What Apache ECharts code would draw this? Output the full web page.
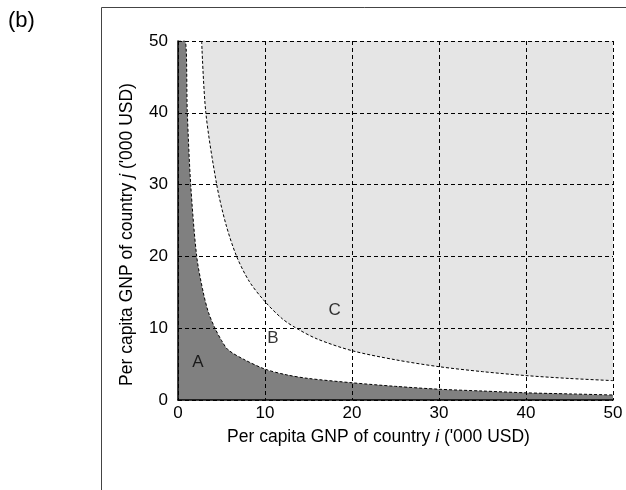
<!DOCTYPE html>
<html><head><meta charset="utf-8">
<script src="https://cdn.jsdelivr.net/npm/echarts@6/dist/echarts.min.js"></script>
<style>html,body{margin:0;padding:0;background:#fff}#c{width:626px;height:490px}</style>
</head><body><div id="c"></div>
<script>
var xTicks = [0, 10, 20, 30, 40, 50];
var yTicks = [0, 10, 20, 30, 40, 50];
// lower boundary (region A below it)
var lowerX = [0, 0.8, 1.07, 1.46, 2.15, 2.9, 3.5, 4.25, 5.0, 5.75, 7.5, 10, 12.5, 15, 20, 25, 30, 35, 40, 45, 50];
var lowerY = [50, 50, 40, 30, 20, 15, 12.2, 10, 8.3, 7.0, 5.7, 4.3, 3.5, 3.0, 2.4, 1.9, 1.5, 1.25, 1.0, 0.85, 0.7];
// upper boundary (region C above it)
var upperX = [2.72, 3.2, 4.45, 5.5, 6.74, 8.2, 10, 12, 13.6, 16, 20, 25, 30, 35, 40, 45, 50];
var upperY = [50, 40, 30, 24.5, 20, 16.5, 13.7, 11.3, 10, 8.5, 6.87, 5.6, 4.64, 3.95, 3.4, 3.0, 2.7];
var regionNames = ['A', 'B', 'C'];
var regionX = [2.3, 10.9, 18.0];
var regionY = [5.3, 8.6, 12.5];

function pairs(xs, ys){ return xs.map(function(x,i){ return [x, ys[i]]; }); }

var chart = echarts.init(document.getElementById('c'), null, {renderer:'canvas'});
var font = 'Liberation Sans, Arial, Helvetica, sans-serif';
var fs = 17.5;
chart.setOption({
  animation: false,
  title: { text: '(b)', left: 3, top: 5, textStyle: { fontFamily: font, fontSize: 22, fontWeight: 'normal', color: '#000' } },
  graphic: [{ type: 'rect', shape: { x: 101.5, y: 7.5, width: 600, height: 600 }, style: { fill: 'none', stroke: '#444', lineWidth: 1 }, z: 0 }],
  grid: { left: 178, right: 13, top: 41, bottom: 90, containLabel: false },
  xAxis: {
    type: 'value', min: 0, max: 50, interval: 10, z: 5,
    name: "Per capita GNP of country {i|i} ('000 USD)",
    nameLocation: 'middle', nameGap: 28,
    nameTextStyle: { fontFamily: font, fontSize: fs, color: '#000', padding: [0, 34, 0, 0], rich: { i: { fontStyle: 'italic', fontFamily: font, fontSize: fs } } },
    axisLine: { show: true, lineStyle: { color: '#000', width: 1.5 } },
    axisTick: { show: false },
    axisLabel: { color: '#000', fontFamily: font, fontSize: 17, margin: 5, formatter: function(v){ return xTicks.indexOf(v) >= 0 ? String(v) : ''; } },
    splitLine: { show: true, lineStyle: { color: '#000', type: [4, 3], width: 1 } }
  },
  yAxis: {
    type: 'value', min: 0, max: 50, interval: 10, z: 5,
    name: "Per capita GNP of country {i|j} ('000 USD)",
    nameLocation: 'middle', nameGap: 42,
    nameTextStyle: { fontFamily: font, fontSize: fs, color: '#000', padding: [0, 28, 0, 0], rich: { i: { fontStyle: 'italic', fontFamily: font, fontSize: fs } } },
    axisLine: { show: true, lineStyle: { color: '#000', width: 1.5 } },
    axisTick: { show: false },
    axisLabel: { color: '#000', fontFamily: font, fontSize: 17, margin: 10, formatter: function(v){ return yTicks.indexOf(v) >= 0 ? String(v) : ''; } },
    splitLine: { show: true, lineStyle: { color: '#000', type: [4, 3], width: 1 } }
  },
  series: [
    { type: 'line', data: pairs(lowerX, lowerY), smooth: 0.3, symbol: 'none', z: 2,
      lineStyle: { color: '#000', width: 1, type: [3, 2] },
      areaStyle: { color: '#808080', opacity: 1, origin: 'start' } },
    { type: 'line', data: pairs(upperX, upperY), smooth: 0.3, symbol: 'none', z: 2,
      lineStyle: { color: '#000', width: 1, type: [3, 2] },
      areaStyle: { color: '#e5e5e5', opacity: 1, origin: 'end' } },
    { type: 'scatter', symbolSize: 0, z: 6,
      data: regionNames.map(function(n,i){ return { name: n, value: [regionX[i], regionY[i]] }; }),
      label: { show: true, position: 'inside', formatter: '{b}', color: '#000', fontFamily: font, fontSize: 17 } }
  ]
});
</script></body></html>
